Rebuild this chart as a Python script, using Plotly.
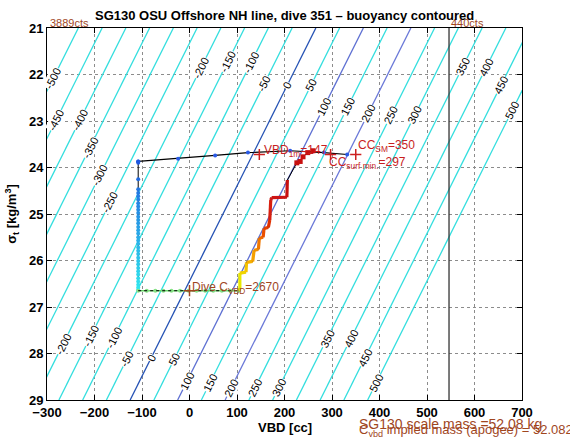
import plotly.graph_objects as go

FONT = "Liberation Sans, Arial, Helvetica, sans-serif"

# ---------------- data ----------------
# buoyancy contour model: VBD [cc] where buoyancy = 0 at sigma 21 and sigma 29
sigma_ends = [21, 29]
zero_vbd_ends = [266, -125]
levels = [-500, -450, -400, -350, -300, -250, -200, -150, -100, -50, 0,
          50, 100, 150, 200, 250, 300, 350, 400, 450, 500]
level_colors = {0: "#2552b4", 100: "#5d6fd2", 200: "#6a78d8"}
cyan = "#33dede"

label_levels = [-500, -450, -400, -350, -300, -250,
                -200, -150, -100, -50, 0, 50, 100, 150, 200,
                250, 300, 350, 400, 450, 500,
                -200, -150, -100, -50, 0, 50, 100, 150, 200,
                250, 300, 350, 400, 450, 500]
label_sigmas = [22.08, 22.98, 22.98, 23.57, 24.17, 24.75,
                21.86, 21.73, 21.73, 22.19, 22.23, 22.23, 22.70, 22.70, 22.83,
                22.88, 22.88, 21.84, 21.84, 22.23, 22.77,
                27.79, 27.62, 27.66, 28.12, 28.09, 28.12, 28.59, 28.63, 28.74,
                28.74, 28.74, 27.68, 27.68, 28.09, 28.63]

# VBD counts conversion
c_vbd = 2670
vbd_cnv = -0.245          # cc per count
min_cts = 3889
max_cts = 440

# dive track
surf_vbd = [332, 283, 212, 123, 54, -24, -108]
surf_sig = [23.72, 23.68, 23.64, 23.68, 23.74, 23.81, 23.87]

desc_vbd = [-108] * 34
desc_sig = [23.87, 23.90, 24.25, 24.47, 24.55, 24.62, 24.69, 24.77, 24.84,
            24.91, 24.98, 25.06, 25.13, 25.20, 25.28, 25.35, 25.42, 25.50,
            25.57, 25.64, 25.72, 25.79, 25.86, 25.94, 26.01, 26.08, 26.16,
            26.23, 26.30, 26.38, 26.45, 26.52, 26.58, 26.63]

apo_vbd = [-108, -90, -72, -55, -38, -20, -2, 15, 33, 50, 68, 86, 104]
apo_sig = [26.65] * 13

up_vbd = [104, 106, 106, 119, 120, 133, 136, 145, 147, 155, 157, 166, 169,
          171, 173, 205, 206]
up_sig = [26.65, 26.60, 26.27, 26.25, 26.04, 26.02, 25.78, 25.76, 25.52,
          25.50, 25.31, 25.29, 25.13, 24.70, 24.65, 24.64, 24.27]
up_colors = ["#e8e800", "#e8e800", "#f0d400", "#f5c400", "#f5b000", "#f5a000",
             "#f39000", "#f07800", "#ee6a00", "#ea5000", "#e64000", "#e03000",
             "#d82010", "#d01a14", "#cc1414", "#c81010"]

top_vbd = [206, 226, 233, 239, 249, 260]
top_sig = [24.27, 23.90, 23.87, 23.77, 23.68, 23.64]

vbd_1m = 147
cc_sm = 350
cc_surf_min = 297
marker_sigma = 23.72

# ---------------- figure ----------------
fig = go.Figure()

def zero_line(lev):
    return [lev + v for v in zero_vbd_ends]

for lev in levels:
    fig.add_trace(go.Scatter(
        x=zero_line(lev), y=sigma_ends, mode="lines",
        line=dict(color=level_colors.get(lev, cyan), width=1.3),
        hoverinfo="skip", showlegend=False))

# max pump line (440 cts)
vmax = (max_cts - c_vbd) * vbd_cnv
fig.add_trace(go.Scatter(x=[vmax, vmax], y=sigma_ends, mode="lines",
                         line=dict(color="#333333", width=1.3),
                         hoverinfo="skip", showlegend=False))

# surface segment
fig.add_trace(go.Scatter(x=surf_vbd, y=surf_sig, mode="lines+markers",
                         line=dict(color="black", width=1.2),
                         marker=dict(color="#2a5ae6", size=4),
                         hoverinfo="skip", showlegend=False))
# descent
fig.add_trace(go.Scatter(x=desc_vbd, y=desc_sig, mode="lines",
                         line=dict(color="black", width=1),
                         hoverinfo="skip", showlegend=False))
fig.add_trace(go.Scatter(x=desc_vbd, y=desc_sig, mode="markers",
                         marker=dict(color=desc_sig, size=4,
                                     colorscale=[[0, "#1e56e0"], [1, "#30e8ee"]]),
                         hoverinfo="skip", showlegend=False))
# apogee
fig.add_trace(go.Scatter(x=apo_vbd, y=apo_sig, mode="lines+markers",
                         line=dict(color="#6ada6a", width=1.5),
                         marker=dict(color="#86e286", size=4),
                         hoverinfo="skip", showlegend=False))
fig.add_trace(go.Scatter(x=apo_vbd, y=apo_sig, mode="lines",
                         line=dict(color="black", width=1, dash="dot"),
                         hoverinfo="skip", showlegend=False))
# ascent staircase
fig.add_trace(go.Scatter(x=up_vbd + top_vbd, y=up_sig + top_sig, mode="lines",
                         line=dict(color="black", width=1),
                         hoverinfo="skip", showlegend=False))
for i in range(len(up_vbd) - 1):
    fig.add_trace(go.Scatter(x=up_vbd[i:i + 2], y=up_sig[i:i + 2], mode="lines",
                             line=dict(color=up_colors[i], width=3.2),
                             hoverinfo="skip", showlegend=False))
fig.add_trace(go.Scatter(x=top_vbd[1:], y=top_sig[1:], mode="markers",
                         marker=dict(color="#c81010", size=5, symbol="square"),
                         hoverinfo="skip", showlegend=False))

# + markers
fig.add_trace(go.Scatter(x=[vbd_1m, cc_sm, cc_surf_min], y=[marker_sigma] * 3,
                         mode="markers",
                         marker=dict(symbol="cross-thin", size=8,
                                     line=dict(color="#cc2020", width=1.5)),
                         hoverinfo="skip", showlegend=False))
dive_c = (c_vbd - c_vbd) * vbd_cnv
fig.add_trace(go.Scatter(x=[dive_c], y=[apo_sig[0]], mode="markers",
                         marker=dict(symbol="cross-thin", size=8,
                                     line=dict(color="#a0461e", width=1.5)),
                         hoverinfo="skip", showlegend=False))

ann = []
# contour labels
for lev, s in zip(label_levels, label_sigmas):
    v = zero_vbd_ends[0] + (zero_vbd_ends[1] - zero_vbd_ends[0]) * (s - sigma_ends[0]) / (sigma_ends[1] - sigma_ends[0]) + lev
    ann.append(dict(x=v, y=s, xref="x", yref="y", text=str(lev), showarrow=False,
                    textangle=-63.4, font=dict(family=FONT, size=11, color="black"),
                    bgcolor="white", borderpad=0))

red = "#c81e1e"
brown = "#a0461e"
ann += [
    dict(x=vbd_1m, y=marker_sigma, xref="x", yref="y", xanchor="left", yanchor="middle",
         xshift=3, yshift=3, text="VBD<sub>1m</sub>=%d" % vbd_1m, showarrow=False,
         font=dict(family=FONT, size=12, color=red)),
    dict(x=cc_sm, y=marker_sigma, xref="x", yref="y", xanchor="left", yanchor="bottom",
         xshift=0, yshift=-2, text="CC<sub>SM</sub>=%d" % cc_sm, showarrow=False,
         font=dict(family=FONT, size=12, color=red)),
    dict(x=cc_surf_min, y=marker_sigma, xref="x", yref="y", xanchor="left", yanchor="top",
         xshift=-4, yshift=1, text="CC<sub>surf min.</sub>=%d" % cc_surf_min, showarrow=False,
         font=dict(family=FONT, size=12, color=red)),
    dict(x=dive_c, y=apo_sig[0], xref="x", yref="y", xanchor="left", yanchor="bottom",
         xshift=0, yshift=-7, text="Dive C<sub>VBD</sub>=%d" % c_vbd, showarrow=False,
         font=dict(family=FONT, size=12, color=brown)),
    dict(x=(min_cts - c_vbd) * vbd_cnv, y=1, xref="x", yref="paper", xanchor="left",
         yanchor="bottom", xshift=0, yshift=-3, text="%dcts" % min_cts, showarrow=False,
         font=dict(family=FONT, size=11, color=brown)),
    dict(x=vmax, y=1, xref="x", yref="paper", xanchor="left",
         yanchor="bottom", xshift=0, yshift=-3, text="%dcts" % max_cts, showarrow=False,
         font=dict(family=FONT, size=11, color=brown)),
    dict(x=0.5, y=1, xref="paper", yref="paper", xanchor="center", yanchor="middle",
         yshift=13, text="<b>SG130 OSU Offshore NH line, dive 351 \u2013 buoyancy contoured</b>",
         showarrow=False, font=dict(family=FONT, size=13, color="black")),
    dict(x=0.5, y=0, xref="paper", yref="paper", xanchor="center", yanchor="middle",
         yshift=-27, text="<b>VBD [cc]</b>", showarrow=False,
         font=dict(family=FONT, size=13, color="black")),
    dict(x=-0.074, y=0.5, xref="paper", yref="paper", xanchor="center", yanchor="middle",
         textangle=-90, text="<b>\u03c3<sub>t</sub> [kg/m<sup>3</sup>]</b>", showarrow=False,
         font=dict(family=FONT, size=13, color="black")),
    dict(x=0.6526, y=0, xref="paper", yref="paper", xanchor="left", yanchor="middle",
         yshift=-30, text="C<sub>vbd</sub> implied mass (apogee) = 52.082 kg", showarrow=False,
         font=dict(family=FONT, size=13, color=brown)),
    dict(x=0.6526, y=0, xref="paper", yref="paper", xanchor="left", yanchor="middle",
         yshift=-24, text="SG130 scale mass =52.08 kg", showarrow=False,
         font=dict(family=FONT, size=14, color=brown)),
]

axis_common = dict(showgrid=True, gridcolor="#8c8c8c", griddash="dot", gridwidth=1,
                   ticks="inside", ticklen=5, tickcolor="black", showline=True,
                   linecolor="black", linewidth=1, mirror="ticks", zeroline=False,
                   tickfont=dict(family=FONT, size=13, color="black", weight="bold"))

fig.update_layout(
    width=570, height=439,
    margin=dict(l=47, r=48, t=28, b=39),
    paper_bgcolor="white", plot_bgcolor="white",
    xaxis=dict(range=[-300, 700], tickvals=[-300, -200, -100, 0, 100, 200, 300, 400, 500, 600, 700],
               **axis_common),
    yaxis=dict(range=[29, 21], tickvals=[21, 22, 23, 24, 25, 26, 27, 28, 29], **axis_common),
    annotations=ann,
    showlegend=False,
)

fig.write_html("out.html", config={"displayModeBar": False},
               post_script="document.body.style.margin='0';document.body.style.overflow='hidden';")
